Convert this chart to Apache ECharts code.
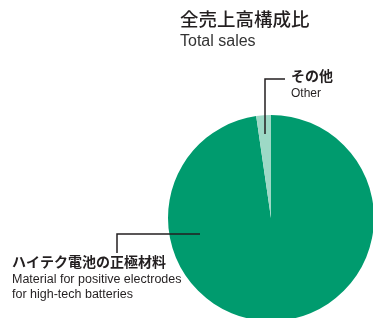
<!DOCTYPE html>
<html>
<head>
<meta charset="utf-8">
<script src="https://cdn.jsdelivr.net/npm/echarts@6/dist/echarts.min.js"></script>
<style>
  html, body { margin: 0; padding: 0; background: #fff; }
  #main { width: 373px; height: 318px; }
</style>
</head>
<body>
<div id="main"></div>
<script>
const segmentNames = ['ハイテク電池の正極材料', 'その他'];
const segmentNamesEn = ['Material for positive electrodes\nfor high-tech batteries', 'Other'];
const segmentShares = [97.7, 2.3];
const segmentColors = ['#009b6e', '#9dd9c6'];

const cjk = '"Noto Sans CJK JP", "Noto Sans", sans-serif';
const narrow = '"Liberation Sans Narrow", "Liberation Sans", sans-serif';
const ink = '#231f20';

const chart = echarts.init(document.getElementById('main'));

chart.setOption({
  animation: false,
  series: [{
    type: 'pie',
    center: [271, 218],
    radius: 103,
    startAngle: 90,
    clockwise: true,
    label: { show: false },
    labelLine: { show: false },
    emphasis: { disabled: true },
    data: segmentNames.map((n, i) => ({
      name: n,
      value: segmentShares[i],
      itemStyle: { color: segmentColors[i] }
    }))
  }],
  graphic: [
    { type: 'text', left: 180, top: 10, z: 100,
      style: { text: '全売上高構成比', font: '500 18.5px ' + cjk, fill: ink } },
    { type: 'text', left: 180, top: 34, z: 100,
      style: { text: 'Total sales', font: '16px "Liberation Sans", sans-serif', fill: '#333' } },

    // その他 leader
    { type: 'polyline', z: 100, shape: { points: [[265, 134], [265, 79], [285, 79]] },
      style: { stroke: ink, lineWidth: 1.5, fill: null } },
    { type: 'text', left: 291, top: 69, z: 100,
      style: { text: segmentNames[1], font: 'bold 14px ' + cjk, fill: ink } },
    { type: 'text', left: 291, top: 88, z: 100,
      style: { text: segmentNamesEn[1], font: '12px ' + narrow, fill: ink } },

    // main leader
    { type: 'polyline', z: 100, shape: { points: [[200, 234], [117, 234], [117, 253]] },
      style: { stroke: ink, lineWidth: 1.5, fill: null } },
    { type: 'text', left: 12, top: 255, z: 100,
      style: { text: segmentNames[0], font: 'bold 14px ' + cjk, fill: ink } },
    { type: 'text', left: 12, top: 272, z: 100,
      style: { text: segmentNamesEn[0], font: '12.5px ' + narrow, lineHeight: 15, fill: ink } }
  ]
});
</script>
</body>
</html>
